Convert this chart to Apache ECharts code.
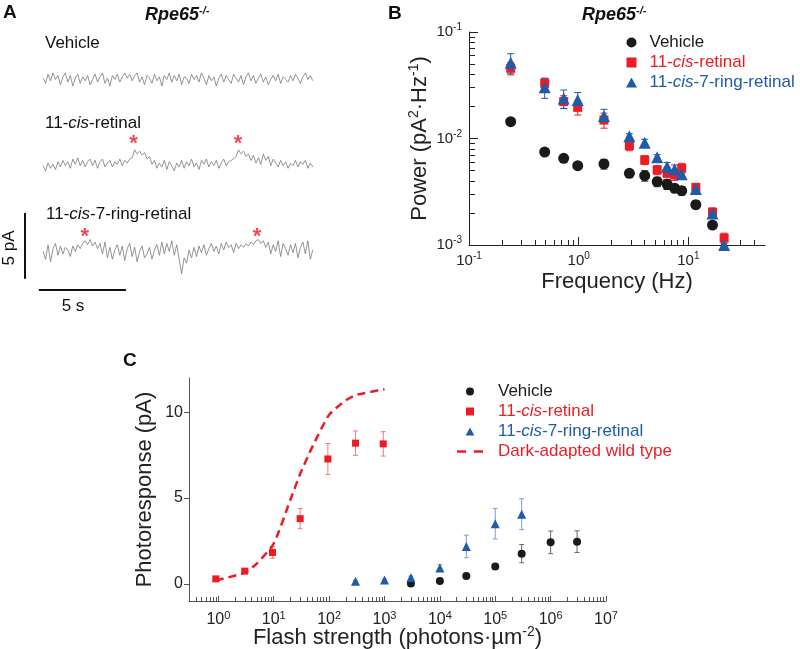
<!DOCTYPE html>
<html><head><meta charset="utf-8">
<script src="https://cdn.jsdelivr.net/npm/echarts@6/dist/echarts.min.js"></script>
<style>html,body{margin:0;padding:0;background:#fff}#c{width:800px;height:649px}</style>
</head><body><div id="c"></div><script>
// ---------- Panel A: current traces (pA deviation), sampled every traceDt seconds ----------
const traceDt = 0.1422;
const traceVehicle = [0.1,-0.3,0.4,-0.1,0.5,0.0,0.3,-0.4,0.2,0.5,-0.2,0.3,-0.5,0.1,0.4,-0.3,0.2,-0.1,0.3,-0.4,
0.0,0.4,-0.2,0.2,0.5,-0.3,0.1,-0.5,0.3,0.0,0.4,-0.2,0.2,0.5,0.1,0.4,-0.1,0.3,0.5,-0.2,
0.2,-0.4,0.3,0.1,-0.3,0.4,-0.1,0.2,-0.5,0.3,0.0,0.5,-0.2,0.3,-0.1,0.4,-0.4,0.2,0.1,-0.3,
0.4,0.0,0.3,-0.2,0.5,0.1,-0.4,0.3,-0.1,0.2,-0.5,0.1,0.4,-0.2,0.3,0.0,-0.3,0.4,0.1,-0.2,
0.3,-0.4,0.2,0.5,-0.1,0.3,-0.3,0.1,0.4,-0.2,0.2,-0.4,0.0,0.3,-0.1,0.4,-0.3,0.2,0.0,-0.2,
0.3,-0.1,0.4,0.1,-0.3,0.2,0.5,0.0,0.3,-0.1];
const traceCis = [-0.2,-0.6,0.0,-0.4,-0.1,-0.5,0.1,-0.3,0.2,-0.2,
0.1,-0.4,0.3,-0.1,0.4,-0.2,0.2,-0.3,0.1,0.3,
-0.2,0.2,-0.4,0.1,0.3,-0.3,0.0,0.2,-0.3,0.1,
-0.1,0.3,-0.2,0.2,0.0,0.3,0.4,1.0,0.7,0.9,
0.6,0.8,0.3,0.5,-0.1,0.2,-0.4,0.0,-0.3,0.2,
-0.5,0.1,-0.2,-0.6,0.0,-0.3,0.2,-0.4,0.1,-0.2,
0.3,-0.3,0.0,-0.5,0.2,-0.1,0.3,-0.3,0.1,-0.2,
0.2,-0.4,0.0,0.3,-0.2,0.1,0.2,0.3,0.5,1.0,
0.7,0.9,0.5,0.7,0.2,0.6,0.0,0.4,-0.1,0.7,
0.2,0.5,-0.2,0.3,0.0,-0.3,0.2,-0.2,0.1,-0.4,
0.0,-0.2,0.2,-0.3,0.1,-0.1,0.2,-0.4,0.0,-0.3];
const traceRing = [0.0,-0.6,0.5,-0.8,0.2,0.6,-0.3,0.4,-0.2,0.3,
0.1,-0.4,0.4,0.0,0.5,0.2,0.6,0.8,0.5,0.9,
0.4,0.7,0.2,0.6,-0.2,0.7,-0.5,0.3,-0.6,0.1,
0.5,-0.3,0.4,-0.7,0.2,0.6,-0.4,0.3,-0.8,0.0,
0.4,-0.5,-0.2,0.3,-0.6,0.1,0.5,-0.3,0.7,-0.2,
0.6,0.0,0.8,-0.3,0.5,-0.6,-1.7,-0.5,-0.9,0.1,
-0.5,0.3,-0.4,0.4,-0.1,0.5,-0.3,0.2,0.6,0.0,
0.4,-0.2,0.6,0.1,0.7,0.3,0.5,-0.1,0.6,0.2,
0.5,0.3,0.6,0.4,0.7,0.5,0.8,0.9,0.6,0.8,
0.3,0.7,-0.2,0.5,0.0,0.8,-0.4,0.6,0.2,-0.3,
0.5,-0.1,0.6,-0.5,0.3,0.7,-0.2,0.8,-0.6,0.1];
const starTimesCis = [5.2, 11.2];
const starTimesRing = [2.4, 12.3];
const scaleBarPA = 5, scaleBarS = 5;

// ---------- Panel B: power spectra ----------
const freqHz   = [0.24,0.49,0.73,0.98,1.7,2.9,4.0,5.2,6.4,7.5,8.7,11.7,16.6,21.2];
const powVehicle = [0.0144,0.00747,0.00651,0.00556,0.00577,0.00471,0.00448,0.00393,0.00372,0.00341,0.00324,0.00239,0.00154,null];
const errVehicle = [0.0007,0.0004,0.0003,0.0003,0.0006,0.0004,0.0005,0.0004,0.0004,0.0003,0.0003,0.0002,0.0001,null];
const powCis  = [0.0456,0.033,0.0222,0.0196,0.0149,0.00857,0.00629,0.00507,0.00471,0.00454,0.00525,0.00348,0.00203,0.00116];
const errCis  = [0.006,0.0037,0.003,0.003,0.0024,0.0009,0.0006,0.0005,0.0006,0.0005,0.0006,0.0003,0.0002,0.00013];
const powRing = [0.0515,0.0303,0.0238,0.023,0.0163,0.0105,0.00914,0.00665,0.00544,0.00514,0.00462,0.00336,0.00198,0.001];
const errRing = [0.011,0.0065,0.0047,0.004,0.0025,0.0006,0.0007,0.0004,0.0005,0.0005,0.0005,0.0003,0.0002,0.0001];
const bXTickExp = [-1,0,1];
const bYTickExp = [-3,-2,-1];

// ---------- Panel C: intensity-response ----------
const flashCis = [0.9,3,9.5,30,95,300,950];
const respCis  = [0.29,0.74,1.83,3.8,7.28,8.2,8.16];
const errRespCis = [0.08,0.1,0.34,0.59,0.9,0.71,0.71];
const flashRing = [300,1000,3000,1e4,3e4,1e5,3e5];
const respRing  = [0.15,0.23,0.37,0.92,2.18,3.51,4.06];
const errRespRing = [0.05,0.05,0.08,0.2,0.66,0.89,0.9];
const flashVeh = [3000,1e4,3e4,1e5,3e5,1e6,3e6];
const respVeh  = [0.02,0.17,0.46,1.01,1.76,2.42,2.46];
const errRespVeh = [0.05,0.08,0.1,0.12,0.53,0.66,0.63];
const flashWT = [0.9,3,5,10,20,30,50,100,200,300,1000];
const respWT  = [0.2,0.65,1.2,2.35,4.9,6.4,8.0,9.85,10.7,11.0,11.35];
const cXTickExp = [0,1,2,3,4,5,6,7];
const cYTicks = [0,5,10];

// ---------- styling / layout ----------
const FONT = '"Liberation Sans", Arial, Helvetica, sans-serif';
const RED = '#ED1C24', BLUE = '#1F5BA8', BLACK = '#1a1a1a', GRAY = '#7a7a7a';
const L = Math.log10;
const offVeh = -2.24, offCis = -8.59, offRing = -15.3;   // vertical placement of traces (pA)
const starLift = [1.85, 1.44];

function minorLogs(lo, hi){ const out=[]; for(let e=Math.floor(lo)-1;e<=Math.ceil(hi);e++){ for(let m=2;m<=9;m++){ const v=e+L(m); if(v>lo+1e-6 && v<hi-1e-6) out.push(v);} } return out; }
function pow10Label(v){ return '{b|10}{s|' + Math.round(v) + '}'; }
const supRich = (fs)=>({ b:{fontSize:fs, fontFamily:FONT, color:'#222', lineHeight:fs+4, verticalAlign:'middle'},
                          s:{fontSize:Math.round(fs*0.66), fontFamily:FONT, color:'#222', lineHeight:11, verticalAlign:'top'} });

function errRender(cap){
  return function(params, api){
    const x = api.value(0), lo = api.value(1), hi = api.value(2);
    const p1 = api.coord([x, lo]), p2 = api.coord([x, hi]);
    const st = api.style({stroke: api.visual('color'), fill: null});
    return {type:'group', children:[
      {type:'line', shape:{x1:p1[0],y1:p1[1],x2:p2[0],y2:p2[1]}, style:st},
      {type:'line', shape:{x1:p1[0]-cap,y1:p1[1],x2:p1[0]+cap,y2:p1[1]}, style:st},
      {type:'line', shape:{x1:p2[0]-cap,y1:p2[1],x2:p2[0]+cap,y2:p2[1]}, style:st}
    ]};
  };
}
function bErr(pw, er){ const d=[]; freqHz.forEach((f,i)=>{ if(pw[i]!=null) d.push([L(f), L(pw[i]-er[i]), L(pw[i]+er[i])]); }); return d; }
function bPts(pw){ const d=[]; freqHz.forEach((f,i)=>{ if(pw[i]!=null) d.push([L(f), L(pw[i])]); }); return d; }
function cErr(xs, ys, er){ return xs.map((x,i)=>[L(x), ys[i]-er[i], ys[i]+er[i]]); }
function cPts(xs, ys){ return xs.map((x,i)=>[L(x), ys[i]]); }
function trace(vals, off){ return vals.map((v,i)=>[i*traceDt, v+off]); }

const legendRich = {
  k:{color:BLACK, fontSize:17, fontFamily:FONT, lineHeight:18},
  r:{color:RED, fontSize:17, fontFamily:FONT, lineHeight:18},
  ri:{color:RED, fontSize:17, fontFamily:FONT, fontStyle:'italic', lineHeight:18},
  b:{color:BLUE, fontSize:17, fontFamily:FONT, lineHeight:18},
  bi:{color:BLUE, fontSize:17, fontFamily:FONT, fontStyle:'italic', lineHeight:18}
};
function legendFmt(name){
  if(name==='Vehicle') return '{k|Vehicle}';
  if(name==='11-cis-retinal') return '{r|11-}{ri|cis}{r|-retinal}';
  if(name==='11-cis-7-ring-retinal') return '{b|11-}{bi|cis}{b|-7-ring-retinal}';
  return '{r|Dark-adapted wild type}';
}
const ICON_SQ = 'path://M0,0h10v10h-10z';
const ICON_TRI = 'path://M5.5,0L11,10L0,10Z';
const ICON_CIRC = 'circle';
const ICON_DASH = 'path://M0,0h9v2.6h-9z M17,0h9v2.6h-9z';

const bxMin = -1, bxMax = L(50), byMin = -3, byMax = -1;
const cxMin = -0.53, cxMax = 7, cyMin = -1, cyMax = 12;

const txt = (x,y,text,rich,extra)=>({type:'text', x:x, y:y, style:Object.assign({text:text, rich:rich, verticalAlign:'middle', fill:'#111', font:'17px '+FONT}, extra||{})});
const aRich = {a:{fontSize:17, fontFamily:FONT, fill:'#111'}, i:{fontSize:17, fontFamily:FONT, fontStyle:'italic', fill:'#111'}};
const titleRich = {t:{fontSize:18, fontFamily:FONT, fontWeight:'bold', fontStyle:'italic', fill:'#111', lineHeight:20, verticalAlign:'middle'},
                   s:{fontSize:11, fontFamily:FONT, fontWeight:'bold', fontStyle:'italic', fill:'#111', lineHeight:10, verticalAlign:'top'}};

const option = {
  animation:false,
  backgroundColor:'#fff',
  textStyle:{fontFamily:FONT},
  grid:[
    {left:17, top:50, width:304.5, height:250, outerBoundsMode:'none', containLabel:false},
    {left:469, top:32, width:296, height:213, outerBoundsMode:'none', containLabel:false},
    {left:189, top:378, width:417, height:223, outerBoundsMode:'none', containLabel:false}
  ],
  xAxis:[
    {gridIndex:0, type:'value', min:-1.5, max:16, show:false},
    {gridIndex:1, type:'value', min:bxMin, max:bxMax, position:'bottom',
      axisLine:{onZero:false, lineStyle:{color:'#222', width:1}}, splitLine:{show:false},
      axisTick:{inside:true, length:8, customValues:bXTickExp, lineStyle:{color:'#222'}},
      axisLabel:{customValues:bXTickExp, formatter:pow10Label, rich:supRich(15), margin:6},
      name:'Frequency (Hz)', nameLocation:'middle', nameGap:26, nameMoveOverlap:false,
      nameTextStyle:{fontSize:22, fontFamily:FONT, color:'#222'}},
    {gridIndex:1, type:'value', min:bxMin, max:bxMax, position:'bottom',
      axisLine:{show:false, onZero:false}, splitLine:{show:false}, axisLabel:{show:false},
      axisTick:{inside:true, length:5, customValues:minorLogs(bxMin,bxMax), lineStyle:{color:'#222'}}},
    {gridIndex:2, type:'value', min:cxMin, max:cxMax, position:'bottom',
      axisLine:{onZero:false, lineStyle:{color:'#555', width:1}}, splitLine:{show:false},
      axisTick:{inside:true, length:5, customValues:cXTickExp, lineStyle:{color:'#555'}},
      axisLabel:{customValues:cXTickExp, formatter:pow10Label, rich:supRich(16), margin:9},
      name:'{n|Flash strength (photons·µm}{s|-2}{n|)}', nameLocation:'middle', nameGap:24, nameMoveOverlap:false,
      nameTextStyle:{rich:{n:{fontSize:22, fontFamily:FONT, color:'#222', lineHeight:26, verticalAlign:'middle'},
                           s:{fontSize:14, fontFamily:FONT, color:'#222', lineHeight:14, verticalAlign:'top'}}}},
    {gridIndex:2, type:'value', min:cxMin, max:cxMax, position:'bottom',
      axisLine:{show:false, onZero:false}, splitLine:{show:false}, axisLabel:{show:false},
      axisTick:{inside:true, length:4, customValues:minorLogs(cxMin,cxMax), lineStyle:{color:'#555'}}}
  ],
  yAxis:[
    {gridIndex:0, type:'value', min:-19, max:0, show:false},
    {gridIndex:1, type:'value', min:byMin, max:byMax, position:'left',
      axisLine:{show:true, onZero:false, lineStyle:{color:'#222', width:1}}, splitLine:{show:false},
      axisTick:{show:true, inside:true, length:9, customValues:bYTickExp, lineStyle:{color:'#222'}},
      axisLabel:{customValues:bYTickExp, formatter:pow10Label, rich:supRich(15), margin:7},
      name:'{n|Power (pA}{s|2}{n|·Hz}{s|-1}{n|)}', nameLocation:'middle', nameGap:36, nameRotate:90, nameMoveOverlap:false,
      nameTextStyle:{rich:{n:{fontSize:22, fontFamily:FONT, color:'#222', lineHeight:26, verticalAlign:'middle'},
                           s:{fontSize:14, fontFamily:FONT, color:'#222', lineHeight:14, verticalAlign:'top'}}}},
    {gridIndex:1, type:'value', min:byMin, max:byMax, position:'left',
      axisLine:{show:false, onZero:false}, splitLine:{show:false}, axisLabel:{show:false},
      axisTick:{show:true, inside:true, length:6, customValues:minorLogs(byMin,byMax), lineStyle:{color:'#222'}}},
    {gridIndex:2, type:'value', min:cyMin, max:cyMax, position:'left',
      axisLine:{show:true, onZero:false, lineStyle:{color:'#555', width:1}}, splitLine:{show:false},
      axisTick:{show:true, inside:false, length:5, customValues:cYTicks, lineStyle:{color:'#555'}},
      axisLabel:{customValues:cYTicks, fontSize:16, color:'#222', margin:6},
      name:'Photoresponse (pA)', nameLocation:'middle', nameGap:33, nameRotate:90, nameMoveOverlap:false,
      nameTextStyle:{fontSize:22, fontFamily:FONT, color:'#222'}}
  ],
  legend:[
    {left:626, top:34, orient:'vertical', itemWidth:18, itemHeight:10, itemGap:3, padding:0, selectedMode:false, symbolKeepAspect:true,
      data:[{name:'Vehicle', icon:ICON_CIRC}, {name:'11-cis-retinal', icon:ICON_SQ}, {name:'11-cis-7-ring-retinal', icon:ICON_TRI}],
      formatter:legendFmt,
      textStyle:{fontSize:17, fontFamily:FONT, rich:legendRich, padding:[0,0,0,4]}},
    {left:457, top:383, orient:'vertical', itemWidth:26, itemHeight:8, itemGap:3, padding:0, selectedMode:false, symbolKeepAspect:true,
      data:[{name:'Vehicle', icon:ICON_CIRC}, {name:'11-cis-retinal', icon:ICON_SQ}, {name:'11-cis-7-ring-retinal', icon:ICON_TRI},
            {name:'Dark-adapted wild type', icon:ICON_DASH, itemStyle:{color:RED}}],
      formatter:legendFmt,
      textStyle:{fontSize:17, fontFamily:FONT, rich:legendRich, padding:[0,0,0,10]}}
  ],
  graphic:[
    txt(3, 12.5, 'A', null, {font:'bold 19px '+FONT}),
    txt(145, 15, '{t|Rpe65}{s|-/-}', titleRich),
    txt(388, 14, 'B', null, {font:'bold 19px '+FONT}),
    txt(582, 15, '{t|Rpe65}{s|-/-}', titleRich),
    txt(123, 361, 'C', null, {font:'bold 19px '+FONT}),
    txt(45, 43, '{a|Vehicle}', aRich),
    txt(45, 123, '{a|11-}{i|cis}{a|-retinal}', aRich),
    txt(46, 214, '{a|11-}{i|cis}{a|-7-ring-retinal}', aRich),
    {type:'text', x:9, y:248, rotation:Math.PI/2, style:{text:'5 pA', font:'17px '+FONT, fill:'#111', align:'center', verticalAlign:'middle'}},
    {type:'text', x:73, y:306, style:{text:'5 s', font:'17px '+FONT, fill:'#111', align:'center', verticalAlign:'middle'}}
  ],
  series:[
    // Panel A
    {type:'line', name:'trVeh', xAxisIndex:0, yAxisIndex:0, data:trace(traceVehicle, offVeh), symbol:'none', lineStyle:{color:GRAY, width:0.8}},
    {type:'line', name:'trCis', xAxisIndex:0, yAxisIndex:0, data:trace(traceCis, offCis), symbol:'none', lineStyle:{color:GRAY, width:0.8}},
    {type:'line', name:'trRing', xAxisIndex:0, yAxisIndex:0, data:trace(traceRing, offRing), symbol:'none', lineStyle:{color:GRAY, width:0.8}},
    {type:'scatter', name:'stars', xAxisIndex:0, yAxisIndex:0, symbolSize:1, itemStyle:{color:'rgba(0,0,0,0)'},
      data: starTimesCis.map(t=>[t, offCis+starLift[0]]).concat(starTimesRing.map(t=>[t, offRing+starLift[1]])),
      label:{show:true, position:'inside', formatter:'*', color:RED, fontSize:22, fontWeight:'bold', offset:[0,5]}},
    {type:'line', name:'barV', xAxisIndex:0, yAxisIndex:0, symbol:'none', lineStyle:{color:'#111', width:2},
      data:[[-1.04, -12.39], [-1.04, -12.39-scaleBarPA]]},
    {type:'line', name:'barH', xAxisIndex:0, yAxisIndex:0, symbol:'none', lineStyle:{color:'#111', width:2},
      data:[[-0.24, -18.24], [-0.24+scaleBarS, -18.24]]},
    // Panel B error bars
    {type:'custom', name:'eBveh', xAxisIndex:1, yAxisIndex:1, renderItem:errRender(3.5), itemStyle:{color:BLACK},
      encode:{x:0, y:[1,2]}, data:bErr(powVehicle, errVehicle), z:2},
    {type:'custom', name:'eBcis', xAxisIndex:1, yAxisIndex:1, renderItem:errRender(3.5), itemStyle:{color:RED},
      encode:{x:0, y:[1,2]}, data:bErr(powCis, errCis), z:2},
    {type:'custom', name:'eBring', xAxisIndex:1, yAxisIndex:1, renderItem:errRender(3.5), itemStyle:{color:BLUE},
      encode:{x:0, y:[1,2]}, data:bErr(powRing, errRing), z:2},
    {type:'scatter', name:'Vehicle', xAxisIndex:1, yAxisIndex:1, symbol:'circle', symbolSize:11, itemStyle:{color:BLACK, opacity:1}, data:bPts(powVehicle), z:3},
    {type:'scatter', name:'11-cis-retinal', xAxisIndex:1, yAxisIndex:1, symbol:'rect', symbolSize:9, itemStyle:{color:RED, opacity:1}, data:bPts(powCis), z:3},
    {type:'scatter', name:'11-cis-7-ring-retinal', xAxisIndex:1, yAxisIndex:1, symbol:'triangle', symbolSize:12, itemStyle:{color:BLUE, opacity:1}, data:bPts(powRing), z:4},
    // Panel C
    {type:'line', name:'Dark-adapted wild type', xAxisIndex:3, yAxisIndex:3, data:cPts(flashWT, respWT), symbol:'none', smooth:0.2,
      itemStyle:{color:RED}, lineStyle:{color:RED, width:2.5, type:[8,5]}, z:2},
    {type:'custom', name:'eCveh', xAxisIndex:3, yAxisIndex:3, renderItem:errRender(2.5), itemStyle:{color:'#666'},
      encode:{x:0, y:[1,2]}, data:cErr(flashVeh, respVeh, errRespVeh), z:2},
    {type:'custom', name:'eCcis', xAxisIndex:3, yAxisIndex:3, renderItem:errRender(2.5), itemStyle:{color:'#f07a7e'},
      encode:{x:0, y:[1,2]}, data:cErr(flashCis, respCis, errRespCis), z:2},
    {type:'custom', name:'eCring', xAxisIndex:3, yAxisIndex:3, renderItem:errRender(2.5), itemStyle:{color:'#7d9ccc'},
      encode:{x:0, y:[1,2]}, data:cErr(flashRing, respRing, errRespRing), z:2},
    {type:'scatter', name:'Vehicle', xAxisIndex:3, yAxisIndex:3, symbol:'circle', symbolSize:8, itemStyle:{color:BLACK, opacity:1}, data:cPts(flashVeh, respVeh), z:3},
    {type:'scatter', name:'11-cis-retinal', xAxisIndex:3, yAxisIndex:3, symbol:'rect', symbolSize:7, itemStyle:{color:RED, opacity:1}, data:cPts(flashCis, respCis), z:3},
    {type:'scatter', name:'11-cis-7-ring-retinal', xAxisIndex:3, yAxisIndex:3, symbol:'triangle', symbolSize:9, itemStyle:{color:BLUE, opacity:1}, data:cPts(flashRing, respRing), z:4}
  ]
};
const chart = echarts.init(document.getElementById('c'), null, {renderer:'canvas'});
chart.setOption(option);
</script></body></html>
